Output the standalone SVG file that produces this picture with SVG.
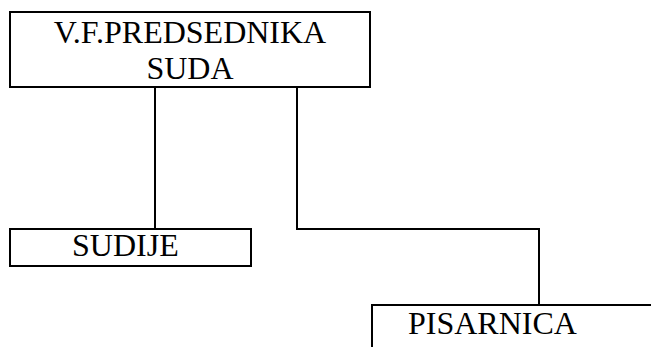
<svg xmlns="http://www.w3.org/2000/svg" width="651" height="347" viewBox="0 0 651 347">
<style>
.box{fill:#fff;stroke:#000;stroke-width:2}
.lbl{font-family:"Liberation Serif","Times New Roman",serif;font-size:32px;fill:#000}
.conn{fill:none;stroke:#000;stroke-width:2}
</style>
<rect width="651" height="347" fill="#fff"/>
<g id="connectors">
<path class="conn" d="M155,87 V229"/>
<path class="conn" d="M297,87 V229 H539 V305"/>
</g>
<g id="node-predsednik">
<rect class="box" x="10" y="12" width="360" height="75"/>
<text class="lbl" x="190" y="42.5" text-anchor="middle">V.F.PREDSEDNIKA</text>
<text class="lbl" x="190" y="79" text-anchor="middle">SUDA</text>
</g>
<g id="node-sudije">
<rect class="box" x="10" y="229" width="241" height="37"/>
<text class="lbl" x="72" y="256">SUDIJE</text>
</g>
<g id="node-pisarnica">
<rect class="box" x="372" y="305" width="300" height="60"/>
<text class="lbl" x="408" y="333.5">PISARNICA</text>
</g>
</svg>
